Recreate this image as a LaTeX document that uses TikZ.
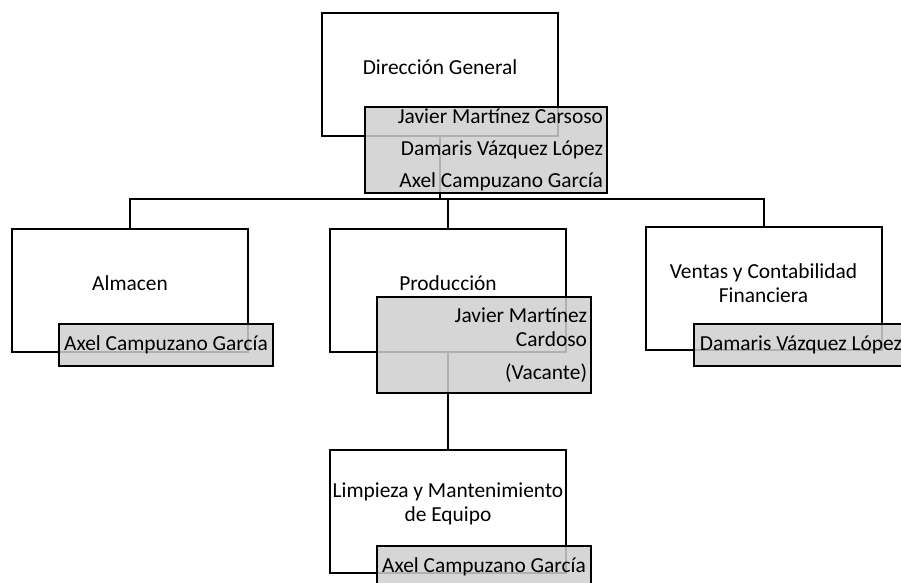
\documentclass[tikz,border=0pt]{standalone}
\usepackage{fontspec}
\setmainfont{Carlito}
\tikzset{
	unitbox/.style={draw,line width=2pt,fill=white,minimum width=236pt,minimum height=123pt,inner sep=0pt},
	namebox/.style={draw,line width=2.2pt,fill=black!19,fill opacity=0.85,text opacity=1,minimum width=214pt,minimum height=42pt,inner xsep=4pt,inner ysep=2pt},
	conn/.style={line width=2pt}
}

\begin{document}
\begin{tikzpicture}[x=1pt,y=-1pt,font=\fontsize{21.4}{24}\selectfont]
	\useasboundingbox (0,0) rectangle (901,582);

	% boxes
	\node [unitbox] (dg) at (440,74.5) {};
	\node [unitbox] (alm) at (130,290.5) {};
	\node [unitbox] (pro) at (448,290.5) {};
	\node [unitbox] (ven) at (763.5,288) {};
	\node [unitbox] (lim) at (448,511.5) {};

	\node (dgtxt) at ([yshift=7pt]dg.center) {Dirección General};
	\node (almtxt) at ([yshift=7pt]alm.center) {Almacen};
	\node (protxt) at ([yshift=7pt]pro.center) {Producción};
	\node [align=center] (ventxt) at ([yshift=5pt]ven.center) {Ventas y Contabilidad\\Financiera};
	\node [align=center] (limtxt) at ([yshift=8pt]lim.center) {Limpieza y Mantenimiento\\de Equipo};

	% connectors
	\coordinate (bus) at (440,199);
	\draw [conn] (dg.south) -- (bus);
	\draw [conn] (alm.north) |- (bus) -| (ven.north);
	\draw [conn] (pro.north) -- (pro.north |- bus);
	\draw [conn] (pro.south) -- (lim.north);

	% names
	\node [namebox,minimum height=86pt,text width=234pt,align=flush right] (dgnames) at (486,150)
		{Javier Martínez Carsoso\\[8pt]Damaris Vázquez López\\[8pt]Axel Campuzano García};
	\node [namebox] (almname) at (166,345) {Axel Campuzano García};
	\node [namebox,minimum height=96pt,text width=206pt,align=flush right] (proname) at (484,345)
		{Javier Martínez\\Cardoso\\[9pt](Vacante)};
	\node [namebox] (venname) at (801,345) {Damaris Vázquez López};
	\node [namebox] (limname) at (484,567) {Axel Campuzano García};
\end{tikzpicture}
\end{document}
